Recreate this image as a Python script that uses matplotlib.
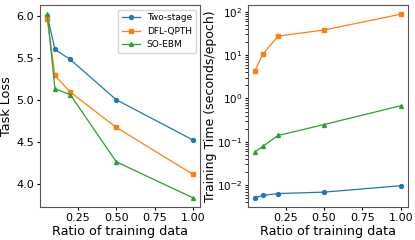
import matplotlib.pyplot as plt

ratios = [0.05, 0.1, 0.2, 0.5, 1.0]
methods = ['Two-stage', 'DFL-QPTH', 'SO-EBM']
markers = ['o', 's', '^']

loss_two_stage = [6.00, 5.60, 5.48, 5.00, 4.52]
loss_dfl_qpth = [5.96, 5.29, 5.09, 4.67, 4.11]
loss_so_ebm = [6.02, 5.13, 5.06, 4.26, 3.83]

time_two_stage = [0.0051, 0.0058, 0.0064, 0.0069, 0.0097]
time_dfl_qpth = [4.4, 10.5, 27.5, 38.0, 88.0]
time_so_ebm = [0.059, 0.078, 0.14, 0.25, 0.68]

losses = [loss_two_stage, loss_dfl_qpth, loss_so_ebm]
times = [time_two_stage, time_dfl_qpth, time_so_ebm]

fig, axs = plt.subplots(1, 2, figsize=(4.15, 2.4), dpi=100)
fig.subplots_adjust(left=0.0964, right=0.983, top=0.979, bottom=0.1375, wspace=0.297)

for i in range(3):
    axs[0].plot(ratios, losses[i], marker=markers[i], markersize=2.8, linewidth=0.9, label=methods[i])
    axs[1].plot(ratios, times[i], marker=markers[i], markersize=2.8, linewidth=0.9, label=methods[i])

axs[0].set_ylabel('Task Loss', fontsize=9.2, labelpad=2)
axs[0].set_xlabel('Ratio of training data', fontsize=9.2, labelpad=1)
axs[0].set_xticks([0.25, 0.5, 0.75, 1.0])
axs[0].set_yticks([4.0, 4.5, 5.0, 5.5, 6.0])
axs[0].legend(fontsize=6.5, loc='upper right')

axs[1].set_yscale('log')
axs[1].set_ylabel('Training Time (seconds/epoch)', fontsize=9, labelpad=0)
axs[1].set_xlabel('Ratio of training data', fontsize=9.2, labelpad=1)
axs[1].set_xticks([0.25, 0.5, 0.75, 1.0])

for ax in axs:
    ax.tick_params(labelsize=8, pad=2, length=2.5)
    for s in ax.spines.values():
        s.set_edgecolor('#555555')
        s.set_linewidth(0.8)
axs[1].tick_params(axis='y', labelsize=7.5, pad=1.5)

fig.savefig('out.png')
